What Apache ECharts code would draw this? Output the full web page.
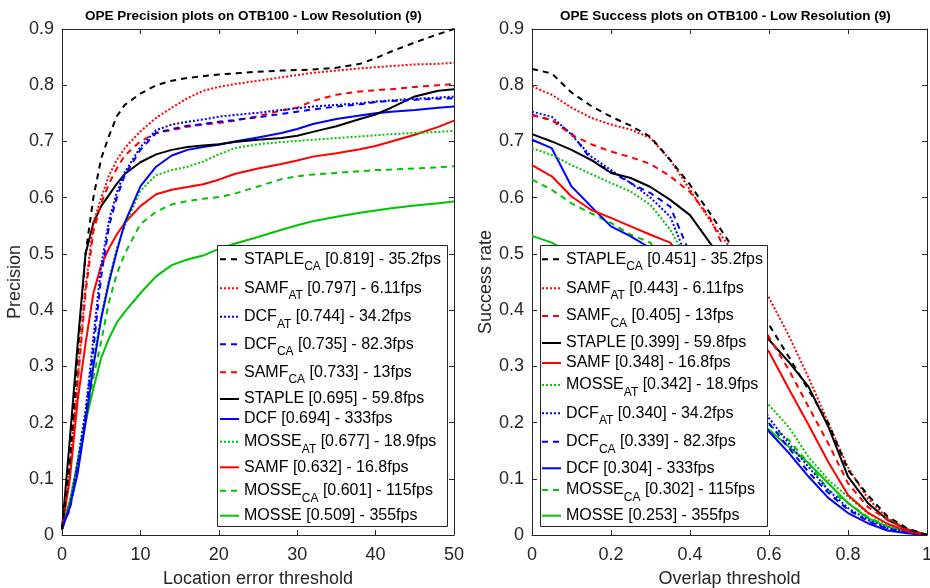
<!DOCTYPE html>
<html><head><meta charset="utf-8">
<script src="https://cdn.jsdelivr.net/npm/echarts@6/dist/echarts.min.js"></script>
<style>html,body{margin:0;padding:0;background:#fff}#c{width:930px;height:588px}</style>
</head><body><div id="c"></div>
<script>
// ---------------- DATA ----------------
const precThresholds = [0,1,2,3,4,5,6,7,8,10,12,14,16,18,20,22,25,28,30,32,35,38,40,42,45,48,50];
const succThresholds = [0,0.05,0.1,0.15,0.2,0.25,0.3,0.35,0.4,0.45,0.5,0.55,0.6,0.65,0.7,0.75,0.8,0.85,0.9,0.95,1];
const precTicks = [0,10,20,30,40,50];
const succTicks = [0,0.2,0.4,0.6,0.8,1];
const yTicks = [0,0.1,0.2,0.3,0.4,0.5,0.6,0.7,0.8,0.9];

// precision curves (threshold in pixels)
const precSTAPLE_CA = [0.01,0.13,0.32,0.50,0.60,0.67,0.71,0.745,0.765,0.785,0.80,0.808,0.813,0.816,0.819,0.821,0.824,0.826,0.827,0.828,0.831,0.838,0.848,0.86,0.876,0.891,0.90];
const precSAMF_AT  = [0.01,0.12,0.28,0.44,0.555,0.60,0.64,0.667,0.688,0.718,0.742,0.76,0.777,0.79,0.797,0.802,0.808,0.814,0.818,0.822,0.826,0.83,0.832,0.834,0.837,0.838,0.84];
const precDCF_AT   = [0.015,0.05,0.13,0.22,0.35,0.48,0.56,0.61,0.645,0.69,0.72,0.73,0.735,0.739,0.744,0.747,0.751,0.756,0.759,0.762,0.765,0.768,0.771,0.773,0.776,0.778,0.78];
const precDCF_CA   = [0.015,0.045,0.12,0.21,0.33,0.46,0.55,0.60,0.64,0.685,0.715,0.722,0.728,0.731,0.735,0.738,0.743,0.749,0.753,0.757,0.762,0.766,0.77,0.772,0.774,0.776,0.777];
const precSAMF_CA  = [0.01,0.11,0.27,0.43,0.54,0.59,0.625,0.652,0.675,0.70,0.715,0.72,0.726,0.73,0.733,0.737,0.745,0.755,0.76,0.772,0.783,0.789,0.791,0.793,0.797,0.80,0.802];
const precSTAPLE   = [0.01,0.17,0.34,0.50,0.555,0.585,0.605,0.625,0.642,0.663,0.677,0.685,0.69,0.693,0.695,0.699,0.703,0.706,0.71,0.717,0.727,0.74,0.748,0.76,0.78,0.79,0.793];
const precDCF      = [0.01,0.05,0.11,0.20,0.30,0.385,0.45,0.505,0.555,0.62,0.655,0.675,0.685,0.69,0.694,0.70,0.707,0.715,0.722,0.731,0.74,0.746,0.75,0.753,0.756,0.76,0.762];
const precMOSSE_AT = [0.015,0.06,0.13,0.22,0.31,0.39,0.455,0.51,0.55,0.612,0.64,0.649,0.655,0.664,0.677,0.688,0.695,0.699,0.701,0.703,0.706,0.709,0.711,0.713,0.715,0.717,0.719];
const precSAMF     = [0.01,0.10,0.24,0.34,0.43,0.48,0.51,0.535,0.555,0.585,0.606,0.614,0.619,0.624,0.632,0.642,0.652,0.66,0.666,0.673,0.679,0.686,0.692,0.70,0.712,0.726,0.737];
const precMOSSE_CA = [0.01,0.05,0.12,0.20,0.28,0.345,0.415,0.465,0.50,0.553,0.575,0.588,0.594,0.598,0.601,0.607,0.62,0.633,0.638,0.641,0.644,0.647,0.649,0.65,0.652,0.654,0.656];
const precMOSSE    = [0.01,0.06,0.13,0.20,0.26,0.315,0.35,0.378,0.397,0.43,0.46,0.48,0.49,0.497,0.509,0.518,0.53,0.543,0.551,0.558,0.566,0.573,0.577,0.581,0.586,0.59,0.593];

// success curves (overlap threshold)
const succSTAPLE_CA = [0.829,0.821,0.787,0.763,0.744,0.728,0.708,0.667,0.623,0.573,0.52,0.45,0.374,0.317,0.258,0.199,0.116,0.071,0.033,0.012,0];
const succSAMF_AT   = [0.798,0.783,0.76,0.742,0.73,0.721,0.706,0.667,0.614,0.56,0.513,0.47,0.422,0.355,0.28,0.2,0.12,0.065,0.03,0.01,0];
const succSAMF_CA   = [0.747,0.738,0.712,0.695,0.682,0.672,0.66,0.638,0.61,0.565,0.49,0.42,0.352,0.294,0.228,0.163,0.092,0.05,0.027,0.01,0];
const succSTAPLE    = [0.713,0.70,0.685,0.667,0.644,0.635,0.619,0.596,0.569,0.52,0.47,0.41,0.347,0.308,0.264,0.193,0.104,0.057,0.027,0.01,0];
const succSAMF      = [0.658,0.638,0.602,0.578,0.564,0.549,0.534,0.52,0.472,0.436,0.399,0.363,0.326,0.26,0.196,0.13,0.071,0.04,0.02,0.007,0];
const succMOSSE_AT  = [0.688,0.676,0.658,0.642,0.626,0.611,0.587,0.543,0.48,0.42,0.355,0.29,0.231,0.192,0.139,0.098,0.068,0.039,0.018,0.008,0];
const succDCF_AT    = [0.753,0.744,0.712,0.673,0.649,0.626,0.60,0.566,0.48,0.42,0.35,0.28,0.208,0.163,0.121,0.08,0.048,0.027,0.012,0.005,0];
const succDCF_CA    = [0.747,0.738,0.715,0.667,0.646,0.626,0.608,0.584,0.50,0.42,0.34,0.27,0.199,0.155,0.112,0.075,0.045,0.025,0.011,0.004,0];
const succDCF       = [0.703,0.688,0.62,0.584,0.549,0.531,0.51,0.45,0.39,0.33,0.28,0.23,0.184,0.146,0.104,0.066,0.039,0.021,0.008,0.003,0];
const succMOSSE_CA  = [0.632,0.614,0.59,0.572,0.555,0.534,0.52,0.46,0.40,0.35,0.29,0.24,0.196,0.169,0.128,0.08,0.057,0.032,0.015,0.006,0];
const succMOSSE     = [0.532,0.52,0.50,0.47,0.44,0.41,0.38,0.35,0.32,0.285,0.25,0.22,0.187,0.157,0.128,0.092,0.057,0.03,0.015,0.006,0];

// legend entries (order as shown) with scores
const precOrder  = ['STAPLE_CA','SAMF_AT','DCF_AT','DCF_CA','SAMF_CA','STAPLE','DCF','MOSSE_AT','SAMF','MOSSE_CA','MOSSE'];
const precScores = [0.819,0.797,0.744,0.735,0.733,0.695,0.694,0.677,0.632,0.601,0.509];
const succOrder  = ['STAPLE_CA','SAMF_AT','SAMF_CA','STAPLE','SAMF','MOSSE_AT','DCF_AT','DCF_CA','DCF','MOSSE_CA','MOSSE'];
const succScores = [0.451,0.443,0.405,0.399,0.348,0.342,0.340,0.339,0.304,0.302,0.253];
const fpsNames   = ['STAPLE_CA','SAMF_AT','DCF_AT','DCF_CA','SAMF_CA','STAPLE','DCF','MOSSE_AT','SAMF','MOSSE_CA','MOSSE'];
const fpsValues  = [35.2,6.11,34.2,82.3,13,59.8,333,18.9,16.8,115,355];

// ---------------- STYLE / LAYOUT ----------------
const FONT = 'Liberation Sans, Arial, Helvetica, sans-serif';
const AX = '#262626';
const GREEN = '#00c400';
const styleOf = {
  STAPLE_CA:{color:'#000000', type:[6,5]},
  SAMF_AT:  {color:'#ff0000', type:[2,2]},
  DCF_AT:   {color:'#0000ff', type:[2,2]},
  DCF_CA:   {color:'#0000ff', type:[6,5]},
  SAMF_CA:  {color:'#ff0000', type:[6,5]},
  STAPLE:   {color:'#000000', type:'solid'},
  DCF:      {color:'#0000ff', type:'solid'},
  MOSSE_AT: {color:GREEN, type:[2,2]},
  SAMF:     {color:'#ff0000', type:'solid'},
  MOSSE_CA: {color:GREEN, type:[6,5]},
  MOSSE:    {color:GREEN, type:'solid'}
};
const grids = [
  {left:62, top:29, width:392, height:506},
  {left:532, top:29, width:395, height:506}
];
const precLegendRowY = [259.3,288.3,316.7,344.3,372.3,400,420,441.7,468.3,490.7,516.7];
const succLegendRowY = [259.3,288.3,316,344,364,385,413.3,441.7,469.3,490,516.7];
const legendIconLeft = [219, 541];
const legendBoxes = [
  {x:217.5, y:245.5, width:230, height:281},
  {x:540.5, y:245.5, width:227, height:281}
];

// ---------------- BUILD ----------------
const precData = {STAPLE_CA:precSTAPLE_CA,SAMF_AT:precSAMF_AT,DCF_AT:precDCF_AT,DCF_CA:precDCF_CA,SAMF_CA:precSAMF_CA,STAPLE:precSTAPLE,DCF:precDCF,MOSSE_AT:precMOSSE_AT,SAMF:precSAMF,MOSSE_CA:precMOSSE_CA,MOSSE:precMOSSE};
const succData = {STAPLE_CA:succSTAPLE_CA,SAMF_AT:succSAMF_AT,SAMF_CA:succSAMF_CA,STAPLE:succSTAPLE,SAMF:succSAMF,MOSSE_AT:succMOSSE_AT,DCF_AT:succDCF_AT,DCF_CA:succDCF_CA,DCF:succDCF,MOSSE_CA:succMOSSE_CA,MOSSE:succMOSSE};
const fpsOf = {}; fpsNames.forEach((n,i)=>fpsOf[n]=fpsValues[i]);

function lineSeries(name, xs, ys, gi){
  const st = styleOf[name];
  return {
    type:'line', name:name, xAxisIndex:gi*2, yAxisIndex:gi*2,
    data: xs.map((x,i)=>[x, ys[i]]),
    symbol:'none', showSymbol:false, z:2, clip:true,
    lineStyle:{color:st.color, width:2, type:st.type, cap:'butt'},
    itemStyle:{color:st.color},
    emphasis:{disabled:true}
  };
}
const series = [];
precOrder.slice().reverse().forEach(n=>series.push(lineSeries(n, precThresholds, precData[n], 0)));
succOrder.slice().reverse().forEach(n=>series.push(lineSeries(n, succThresholds, succData[n], 1)));

const rich = {
  n:{fontSize:16, fontFamily:FONT, color:'#000', lineHeight:18},
  s:{fontSize:12, fontFamily:FONT, color:'#000', lineHeight:12, padding:[15,0,0,0]}
};
function legendText(name, score){
  const parts = name.split('_');
  const tail = ' [' + score.toFixed(3) + '] - ' + fpsOf[name] + 'fps';
  return parts[1] ? '{n|' + parts[0] + '}{s|' + parts[1] + '}{n|' + tail + '}' : '{n|' + parts[0] + tail + '}';
}
const legends = [];
function addLegends(order, scores, rows, gi){
  order.forEach((name,i)=>{
    const h = name.indexOf('_')>=0 ? 27 : 18;
    legends.push({
      data:[name], left:legendIconLeft[gi], top: rows[i]-h/2, padding:0,
      orient:'vertical', itemWidth:19, itemHeight:12, selectedMode:false, z:5,
      itemStyle:{opacity:0, borderWidth:0},
      formatter: ()=>legendText(name, scores[i]),
      textStyle:{rich:rich, fontFamily:FONT, fontSize:16, color:'#000'}
    });
  });
}
addLegends(precOrder, precScores, precLegendRowY, 0);
addLegends(succOrder, succScores, succLegendRowY, 1);

function axisBase(gi, pos, min, max, interval, showLabel, name, nameGap){
  return {
    type:'value', gridIndex:gi, position:pos, min:min, max:max, interval:interval,
    name: name || '', nameLocation:'middle', nameGap: nameGap || 0,
    nameTextStyle:{fontSize:18, fontFamily:FONT, color:AX},
    axisLine:{show:true, onZero:false, lineStyle:{color:AX, width:1}},
    axisTick:{show:true, inside:true, length:5, lineStyle:{color:AX, width:1}},
    axisLabel:{show:showLabel, margin:11, fontSize:18, fontFamily:FONT, color:AX, hideOverlap:false},
    splitLine:{show:false}
  };
}
const xAxis = [
  axisBase(0,'bottom',precTicks[0],precTicks[precTicks.length-1],precTicks[1]-precTicks[0],true,'Location error threshold',35),
  axisBase(0,'top',precTicks[0],precTicks[precTicks.length-1],precTicks[1]-precTicks[0],false),
  axisBase(1,'bottom',succTicks[0],succTicks[succTicks.length-1],0.2,true,'Overlap threshold',35),
  axisBase(1,'top',succTicks[0],succTicks[succTicks.length-1],0.2,false)
];
const yAxis = [
  axisBase(0,'left',yTicks[0],yTicks[yTicks.length-1],0.1,true,'Precision',38),
  axisBase(0,'right',yTicks[0],yTicks[yTicks.length-1],0.1,false),
  axisBase(1,'left',yTicks[0],yTicks[yTicks.length-1],0.1,true,'Success rate',36),
  axisBase(1,'right',yTicks[0],yTicks[yTicks.length-1],0.1,false)
];
yAxis.forEach(a=>{a.axisLabel.margin = 8;});

const option = {
  animation:false,
  backgroundColor:'#ffffff',
  title:[
    {text:'OPE Precision plots on OTB100 - Low Resolution (9)', left:85, top:9, padding:0,
     textStyle:{fontSize:13.5, fontWeight:'bold', fontFamily:FONT, color:'#000'}},
    {text:'OPE Success plots on OTB100 - Low Resolution (9)', left:560, top:9, padding:0,
     textStyle:{fontSize:13.5, fontWeight:'bold', fontFamily:FONT, color:'#000'}}
  ],
  grid: grids.map(g=>Object.assign({containLabel:false, outerBoundsMode:'none'}, g)),
  xAxis:xAxis, yAxis:yAxis,
  legend:legends,
  graphic:legendBoxes.map(b=>({type:'rect', z:3, silent:true, shape:b,
    style:{fill:'#ffffff', stroke:AX, lineWidth:1}})),
  series:series
};
const chart = echarts.init(document.getElementById('c'), null, {renderer:'canvas'});
chart.setOption(option);
</script></body></html>
